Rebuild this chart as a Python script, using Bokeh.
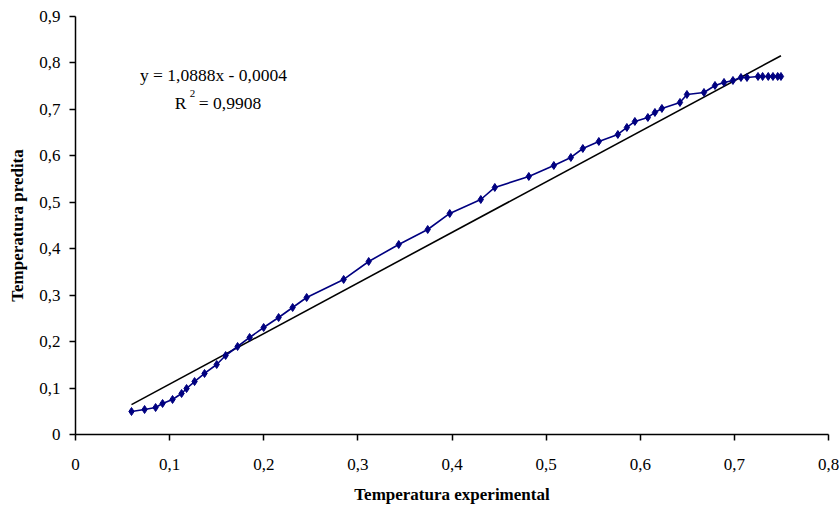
from bokeh.plotting import figure
from bokeh.models import Range1d, Label, FixedTicker, CustomJSTickFormatter, ColumnDataSource
from bokeh.embed import file_html
from bokeh.resources import INLINE

# Data
t_exp = [0.0595, 0.0734, 0.0851, 0.0925, 0.1031, 0.1127, 0.118, 0.1265, 0.1371, 0.150,
         0.1595, 0.1722, 0.185, 0.1999, 0.2158, 0.2307, 0.2456, 0.2849, 0.3115, 0.3434,
         0.3742, 0.3976, 0.4306, 0.4455, 0.4816, 0.5082, 0.5263, 0.539, 0.556, 0.5762,
         0.5858, 0.5943, 0.6081, 0.6156, 0.623, 0.6422, 0.6496, 0.6677, 0.6794, 0.689,
         0.6985, 0.707, 0.7134, 0.7251, 0.730, 0.736, 0.741, 0.746, 0.7495]
t_pred = [0.0495, 0.0538, 0.0581, 0.0668, 0.0754, 0.0883, 0.099, 0.114, 0.1314, 0.1507,
          0.1701, 0.1895, 0.2089, 0.2304, 0.2519, 0.2735, 0.295, 0.3338, 0.3725, 0.4091,
          0.4414, 0.4759, 0.506, 0.5319, 0.5556, 0.5792, 0.5965, 0.6158, 0.6309, 0.646,
          0.6611, 0.674, 0.6826, 0.6934, 0.702, 0.7149, 0.7321, 0.7364, 0.7515, 0.758,
          0.7623, 0.7687, 0.7687, 0.7709, 0.7709, 0.7709, 0.7709, 0.7709, 0.7709]

slope = 1.0888
intercept = -0.0004
r_squared = 0.9908
x_ticks = [0, 0.1, 0.2, 0.3, 0.4, 0.5, 0.6, 0.7, 0.8]
y_ticks = [0, 0.1, 0.2, 0.3, 0.4, 0.5, 0.6, 0.7, 0.8, 0.9]

FONT = "Liberation Serif"

p = figure(width=840, height=509, output_backend="svg", toolbar_location=None,
           x_range=Range1d(0, 0.8), y_range=Range1d(0, 0.9),
           min_border_left=75, min_border_right=12, min_border_top=16, min_border_bottom=75)
p.outline_line_color = None
p.xgrid.visible = False
p.ygrid.visible = False
p.background_fill_color = "white"
p.border_fill_color = "white"

fmt = CustomJSTickFormatter(code="return tick == 0 ? '0' : tick.toFixed(1).replace('.', ',');")
for ax, ticks in ((p.xaxis[0], x_ticks), (p.yaxis[0], y_ticks)):
    ax.ticker = FixedTicker(ticks=ticks)
    ax.formatter = fmt
    ax.minor_tick_line_color = None
    ax.major_tick_in = 0
    ax.major_tick_out = 6
    ax.axis_line_width = 1.5
    ax.major_tick_line_width = 1.5
    ax.axis_line_color = "black"
    ax.major_tick_line_color = "black"
    ax.major_label_text_font = FONT
    ax.major_label_text_font_size = "17px"
    ax.major_label_text_color = "black"
    ax.axis_label_text_font = FONT
    ax.axis_label_text_font_style = "bold"
    ax.axis_label_text_font_size = "17px"
    ax.axis_label_text_color = "black"

p.xaxis.axis_label = "Temperatura experimental"
p.yaxis.axis_label = "Temperatura predita"
p.xaxis.major_label_standoff = 18
p.xaxis.axis_label_standoff = 12
p.yaxis.major_label_standoff = 9
p.yaxis.axis_label_standoff = 9

# trend line
x0, x1 = min(t_exp), max(t_exp)
p.line([x0, x1], [slope * x0 + intercept, slope * x1 + intercept], line_color="black", line_width=1.6)

src = ColumnDataSource(dict(x=t_exp, y=t_pred))
p.line("x", "y", source=src, line_color="#000080", line_width=1.6)
p.scatter("x", "y", source=src, marker="diamond", size=8, fill_color="#000080", line_color="#000080")

eq = f"y = {slope:.4f}x - {abs(intercept):.4f}".replace(".", ",")
r2 = f"= {r_squared:.4f}".replace(".", ",")
p.add_layout(Label(x=0.0685, y=0.773, text=eq, text_font=FONT, text_font_size="17.5px",
                   text_baseline="middle", text_color="black"))
p.add_layout(Label(x=0.1055, y=0.713, text="R", text_font=FONT, text_font_size="17.5px",
                   text_baseline="middle", text_color="black"))
p.add_layout(Label(x=0.1215, y=0.734, text="2", text_font=FONT, text_font_size="11px",
                   text_baseline="middle", text_color="black"))
p.add_layout(Label(x=0.1310, y=0.713, text=r2, text_font=FONT, text_font_size="17.5px",
                   text_baseline="middle", text_color="black"))

open("out.html", "w").write(file_html(p, INLINE))
